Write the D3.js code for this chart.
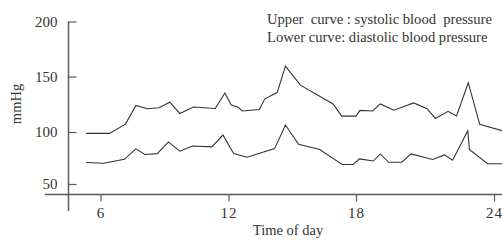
<!DOCTYPE html>
<html>
<head>
    <meta charset="utf-8">
    <title>Blood pressure over the day</title>
    <script src="https://d3js.org/d3.v7.min.js"></script>
    <style>
        body {
            margin: 0;
            background: white;
        }
        svg text {
            font-family: "Liberation Serif", "Times New Roman", serif;
            fill: #333;
        }
        .curve {
            fill: none;
            stroke: #333;
            stroke-width: 1.1px;
        }
        .axis path,
        .axis line {
            stroke: #5a5a5a;
            stroke-width: 1.5px;
        }
    </style>
</head>
<body>
    <svg id="chart" width="502" height="240"></svg>

    <script>
        // hours of the day and readings in mmHg
        const xTicks = [6, 12, 18, 24];
        const yTicks = [50, 100, 150, 200];

        const systolicHours = [5.33, 6.42, 7.17, 7.66, 8.19, 8.74, 9.25, 9.72, 10.36, 11.38, 11.83,
            12.13, 12.43, 12.65, 13.45, 13.71, 14.29, 14.68, 15.38, 16.92, 17.33, 18.0, 18.17,
            18.72, 19.06, 19.64, 20.51, 21.09, 21.45, 22.0, 22.37, 22.88, 23.38, 24.4];
        const systolic = [98.7, 98.7, 107.1, 123.9, 121, 121.9, 126.8, 116.7, 122.5, 121.2, 135.1,
            124.3, 122.6, 118.9, 120.3, 129.9, 135.5, 159.4, 142.2, 125.3, 114.3, 114.3, 119.5,
            118.9, 125.3, 119.6, 126.2, 121, 112.2, 118.6, 114.5, 144.4, 106.9, 100.9];

        const diastolicHours = [5.33, 6.14, 7.12, 7.66, 8.08, 8.66, 9.18, 9.72, 10.31, 11.22, 11.74,
            12.24, 12.87, 14.17, 14.68, 15.3, 16.29, 17.35, 17.86, 18.15, 18.75, 19.06, 19.42,
            19.99, 20.39, 21.34, 21.84, 22.2, 22.86, 22.93, 23.72, 24.4];
        const diastolic = [70.7, 70, 73.7, 83.8, 78.4, 79.2, 90.5, 81.6, 86.5, 85.7, 97.1,
            79.4, 75.8, 84, 106.3, 88.1, 83.1, 68.8, 68.8, 74.2, 72.1, 78.9, 70.9,
            70.9, 78.9, 73.6, 78, 72.8, 101.2, 83.3, 69.5, 69.5];

        const svg = d3.select('#chart');

        // the printed grid is slightly uneven, so the scales follow the tick positions
        const x = d3.scaleLinear()
            .domain(xTicks)
            .range([100.5, 228.5, 356, 494]);
        const y = d3.scaleLinear()
            .domain(yTicks)
            .range([184, 132, 76.5, 21.5]);

        const axisLeftX = 68.5;
        const axisBottomY = 194.5;

        // x axis
        const xAxis = d3.axisBottom(x)
            .tickValues(xTicks)
            .tickSize(7)
            .tickPadding(6)
            .tickSizeOuter(0);
        const gx = svg.append('g')
            .attr('class', 'axis')
            .attr('transform', `translate(0,${axisBottomY})`)
            .call(xAxis);
        gx.select('.domain').remove();
        gx.append('line')
            .attr('x1', 45)
            .attr('x2', 502);
        gx.selectAll('.tick text')
            .attr('font-size', 15)
            .style('letter-spacing', '1px')
            .attr('fill', '#333');
        gx.selectAll('.tick line').style('stroke-width', '1.2px');

        // y axis, ticks point into the plot
        const yAxis = d3.axisLeft(y)
            .tickValues(yTicks)
            .tickSize(-8)
            .tickPadding(11)
            .tickSizeOuter(0);
        const gy = svg.append('g')
            .attr('class', 'axis')
            .attr('transform', `translate(${axisLeftX},0)`)
            .call(yAxis);
        gy.select('.domain').remove();
        gy.append('line')
            .attr('y1', y(200))
            .attr('y2', 211);
        gy.selectAll('.tick text')
            .attr('font-size', 15)
            .attr('fill', '#333');
        gy.selectAll('.tick line').style('stroke-width', '1.2px');

        // curves
        const line = d3.line()
            .x(d => x(d[0]))
            .y(d => y(d[1]));

        svg.append('path')
            .attr('class', 'curve')
            .attr('d', line(d3.zip(systolicHours, systolic)));
        svg.append('path')
            .attr('class', 'curve')
            .attr('d', line(d3.zip(diastolicHours, diastolic)));

        // labels
        svg.append('text')
            .attr('x', 288)
            .attr('y', 235)
            .attr('font-size', 14.5)
            .style('text-anchor', 'middle')
            .text('Time of day');

        svg.append('text')
            .attr('transform', `translate(21,104) rotate(-90)`)
            .attr('font-size', 14.5)
            .style('text-anchor', 'middle')
            .text('mmHg');

        svg.append('text')
            .attr('x', 267)
            .attr('y', 24)
            .attr('font-size', 14.6)
            .style('white-space', 'pre')
            .text('Upper  curve : systolic blood  pressure');
        svg.append('text')
            .attr('x', 267)
            .attr('y', 42)
            .attr('font-size', 14.6)
            .text('Lower curve: diastolic blood pressure');
    </script>
</body>
</html>
